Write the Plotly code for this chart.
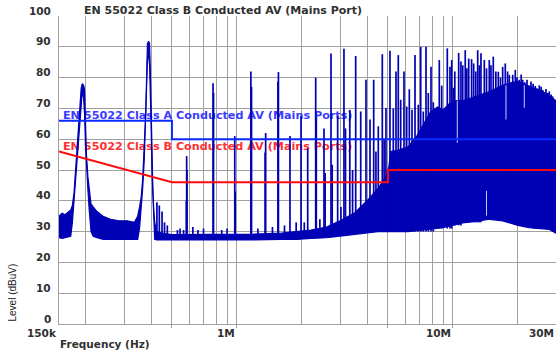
import numpy as np
import plotly.graph_objects as go

# ---------------- data (frequencies in MHz, levels in dBuV) ----------------
band_freq = [0.150, 0.155, 0.160, 0.166, 0.170, 0.173, 0.176, 0.179, 0.183, 0.187,
             0.190, 0.192, 0.195, 0.197, 0.199, 0.201, 0.204, 0.207, 0.211, 0.216,
             0.225, 0.240, 0.260, 0.285, 0.310, 0.335, 0.347, 0.354, 0.360, 0.366,
             0.372, 0.378, 0.382, 0.385, 0.390, 0.394, 0.397, 0.400, 0.404, 0.408,
             0.412, 0.416, 0.425, 0.450, 0.500, 0.800, 1.200, 1.600, 1.900, 2.200,
             2.600, 3.000, 3.500, 4.000, 4.500, 4.900, 5.050, 5.150, 5.600, 6.200,
             6.800, 7.300, 7.900, 8.500, 9.000, 9.600, 10.40, 11.10, 12.90, 14.80,
             17.00, 18.90, 20.00, 22.50, 26.00, 28.00, 30.00]
band_low = [28.0, 27.8, 28.0, 28.2, 28.5, 33.0, 40.0, 47.0, 57.0, 67.0,
            73.0, 75.0, 73.5, 68.0, 58.0, 51.0, 44.0, 37.0, 30.0, 28.5,
            28.0, 27.5, 27.5, 27.3, 27.3, 27.3, 27.5, 31.0, 37.0, 44.0,
            53.0, 65.0, 78.0, 86.0, 87.0, 84.0, 77.0, 66.0, 50.0, 40.0,
            32.0, 27.5, 27.3, 27.3, 27.2, 27.2, 27.3, 27.5, 27.5, 27.8,
            28.0, 28.5, 29.0, 29.5, 30.0, 30.0, 30.0, 30.0, 30.0, 30.0,
            30.3, 30.5, 30.8, 31.0, 31.3, 31.8, 32.4, 32.8, 33.4, 34.0,
            33.5, 32.4, 32.0, 31.3, 31.0, 30.7, 29.5]
band_high = [35.0, 36.0, 35.5, 36.5, 37.0, 38.5, 42.5, 50.0, 60.0, 70.5,
             76.5, 78.0, 77.5, 76.0, 64.0, 55.0, 48.0, 43.0, 39.0, 38.0,
             36.5, 35.0, 34.0, 33.5, 33.5, 33.0, 35.0, 38.0, 41.0, 47.0,
             56.0, 68.0, 81.0, 91.0, 91.8, 91.0, 82.5, 70.0, 54.0, 44.0,
             37.0, 33.0, 30.0, 29.5, 29.0, 29.0, 29.2, 29.5, 30.0, 30.5,
             31.5, 33.5, 36.0, 40.0, 44.0, 48.0, 51.0, 56.0, 56.5, 57.5,
             61.0, 65.0, 69.0, 70.5, 69.5, 71.5, 72.5, 72.5, 74.0, 75.5,
             77.5, 78.5, 78.7, 77.2, 75.5, 74.0, 72.5]

spike_freq = [0.426, 0.437, 0.450, 0.462, 0.476, 0.530, 0.545, 0.566, 0.583, 0.585,
              0.587, 0.625, 0.660, 0.700, 0.775, 0.779, 0.850, 0.900, 0.977, 0.981,
              1.160, 1.168, 1.250, 1.350, 1.358, 1.460, 1.548, 1.556, 1.660, 1.760,
              1.880, 1.980, 2.050, 2.126, 2.315, 2.330, 2.420, 2.529, 2.560, 2.725,
              2.760, 2.926, 3.030, 3.129, 3.180, 3.330, 3.430, 3.546, 3.741, 3.957,
              4.130, 4.296, 4.400, 4.512, 4.709, 4.800, 4.897, 5.110, 5.295, 5.450,
              5.584, 5.729, 5.934, 6.108, 6.280, 6.464, 6.672, 6.912, 7.091, 7.291,
              7.504, 7.690, 7.914, 8.111, 8.646, 8.871, 9.416, 9.690, 9.870, 10.04,
              10.20, 10.63, 10.89, 11.10, 11.40, 11.60, 11.83, 12.20, 12.47, 12.75,
              13.02, 13.25, 13.48, 13.97, 14.30, 14.73, 15.00, 15.37, 15.80, 16.22,
              16.60, 16.99, 17.47, 17.90, 18.23, 18.91, 19.44, 19.80, 20.28, 20.70,
              21.04, 21.50, 22.02, 22.98, 23.50, 24.06, 24.60, 25.11, 25.60, 26.03,
              26.96, 27.50, 27.93, 28.50, 28.96]
spike_top = [39.5, 38.5, 36.5, 33.0, 32.0, 30.5, 31.0, 30.5, 40.0, 54.5,
             50.0, 31.5, 30.5, 31.0, 78.2, 75.0, 30.5, 31.0, 61.0, 43.0,
             82.0, 77.0, 31.0, 55.7, 62.0, 31.5, 78.7, 81.8, 32.0, 61.0,
             33.0, 67.5, 33.0, 57.0, 80.0, 66.7, 34.0, 63.5, 49.0, 87.8,
             51.7, 67.6, 38.0, 89.4, 63.5, 69.5, 50.0, 87.0, 69.0, 79.3,
             66.4, 79.3, 56.0, 64.2, 87.6, 60.0, 70.1, 88.7, 70.0, 82.0,
             87.3, 72.8, 82.0, 70.6, 76.2, 69.6, 87.3, 71.2, 90.0, 69.0,
             90.0, 75.0, 83.5, 72.0, 85.7, 77.4, 89.5, 83.5, 85.7, 76.7,
             82.0, 88.0, 85.2, 84.0, 88.9, 83.0, 86.2, 86.0, 84.6, 82.0,
             88.9, 84.0, 87.9, 85.7, 83.0, 85.7, 84.0, 86.8, 82.0, 81.9,
             80.0, 83.5, 84.6, 82.0, 80.9, 80.9, 82.5, 80.0, 79.3, 81.0,
             79.3, 78.5, 79.3, 78.7, 78.0, 77.3, 76.5, 77.5, 77.0, 76.0,
             76.3, 75.0, 75.5, 74.5, 73.9]
spike_base = [29.0, 29.0, 29.0, 29.0, 29.0, 28.5, 28.5, 28.5, 29.0, 29.0,
              29.0, 28.5, 28.5, 28.5, 29.0, 29.0, 28.5, 28.5, 29.0, 29.0,
              29.0, 29.0, 28.5, 29.0, 29.0, 28.5, 29.0, 29.0, 29.0, 29.0,
              29.0, 29.0, 29.0, 29.5, 29.5, 29.5, 29.5, 30.0, 30.0, 30.0,
              30.0, 30.0, 30.0, 30.0, 30.0, 30.0, 30.0, 30.0, 30.0, 30.0,
              30.0, 30.0, 30.0, 30.0, 30.0, 30.0, 30.0, 30.0, 30.0, 30.0,
              30.0, 30.0, 30.0, 30.0, 30.0, 30.0, 30.0, 30.0, 30.0, 30.0,
              30.0, 30.0, 30.0, 30.0, 31.0, 31.0, 31.0, 31.0, 31.0, 32.0,
              32.0, 32.0, 32.0, 33.0, 33.0, 33.0, 33.0, 33.0, 33.0, 33.0,
              33.0, 33.0, 33.0, 34.0, 34.0, 34.0, 34.0, 34.0, 34.0, 34.0,
              34.0, 34.0, 34.0, 33.0, 33.0, 33.0, 33.0, 33.0, 32.0, 32.0,
              32.0, 32.0, 32.0, 32.0, 31.0, 31.0, 31.0, 31.0, 31.0, 31.0,
              31.0, 31.0, 31.0, 31.0, 31.0]

notch_freq = [10.47, 14.30, 17.60, 21.40]
notch_low = [58.8, 35.2, 66.4, 70.2]
notch_high = [72.5, 43.2, 77.5, 77.5]

classA_freq = [0.15, 0.5, 0.5, 30.0]
classA_level = [66.0, 66.0, 60.0, 60.0]
classB_freq = [0.15, 0.5, 5.0, 5.0, 30.0]
classB_level = [56.0, 46.0, 46.0, 50.0, 50.0]

label_texts = ["EN 55022 Class A Conducted AV (Mains Ports)",
               "EN 55022 Class B Conducted AV (Mains Ports)"]
label_freq = [0.1565, 0.1565]
label_level = [67.4, 57.4]

title_text = "EN 55022 Class B Conducted AV (Mains Port)"
x_title = "Frequency (Hz)"
y_title = "Level (dBuV)"

grid_freq = [0.2, 0.3, 0.4, 0.5, 0.6, 0.7, 0.8, 0.9, 1, 2, 3, 4, 5, 6, 7, 8, 9, 10, 20, 30]
tick_mark_freq = [0.5, 1, 5, 10]
x_tick_vals = [0.15, 1, 10, 30]
x_tick_text = ["150k", "1M", "10M", "30M"]
y_tick_vals = [0, 10, 20, 30, 40, 50, 60, 70, 80, 90, 100]

# ---------------- styles ----------------
TRACE_BLUE = "#0000b4"
GRID = "#a0a0a0"
BOLD = dict(family="DejaVu Sans", size=11, color="#303030", weight="bold")

fig = go.Figure()

# limit labels first so the spectrum is drawn over them
fig.add_trace(go.Scatter(x=label_freq[:1], y=label_level[:1], mode="text",
                         text=label_texts[:1], textposition="middle right",
                         textfont=dict(family="DejaVu Sans", size=11.2, color="#3b3bff", weight="bold"),
                         hoverinfo="skip", showlegend=False))
fig.add_trace(go.Scatter(x=label_freq[1:], y=label_level[1:], mode="text",
                         text=label_texts[1:], textposition="middle right",
                         textfont=dict(family="DejaVu Sans", size=11.2, color="#ff3030", weight="bold"),
                         hoverinfo="skip", showlegend=False))

# noise band (lower and upper envelope)
fig.add_trace(go.Scatter(x=band_freq, y=band_low, mode="lines",
                         line=dict(color=TRACE_BLUE, width=1.2), showlegend=False, hoverinfo="skip"))
fig.add_trace(go.Scatter(x=band_freq, y=band_high, mode="lines", fill="tonexty",
                         fillcolor=TRACE_BLUE,
                         line=dict(color=TRACE_BLUE, width=1.2), showlegend=False, hoverinfo="skip"))

# harmonic spikes
sx, sy = [], []
for f, b, t in zip(spike_freq, spike_base, spike_top):
    sx += [f, f, None]
    sy += [b, t, None]
fig.add_trace(go.Scatter(x=sx, y=sy, mode="lines", line=dict(color=TRACE_BLUE, width=1.7),
                         showlegend=False, hoverinfo="skip", connectgaps=False))

# light notches inside the dense band
nx, ny = [], []
for f, lo, hi in zip(notch_freq, notch_low, notch_high):
    nx += [f, f, None]
    ny += [lo, hi, None]
fig.add_trace(go.Scatter(x=nx, y=ny, mode="lines", line=dict(color="rgba(225,225,255,0.9)", width=1),
                         showlegend=False, hoverinfo="skip", connectgaps=False))

# limit lines
fig.add_trace(go.Scatter(x=classA_freq, y=classA_level, mode="lines",
                         line=dict(color="#0a28ff", width=2), showlegend=False, hoverinfo="skip"))
fig.add_trace(go.Scatter(x=classB_freq, y=classB_level, mode="lines",
                         line=dict(color="#ff0a0a", width=2), showlegend=False, hoverinfo="skip"))

annotations = []
annotations.append(dict(text=title_text, xref="paper", yref="paper", x=0.047, y=1,
                        xanchor="left", yanchor="middle", yshift=5.5, showarrow=False, font=BOLD))
for v, t in zip(x_tick_vals, x_tick_text):
    annotations.append(dict(text=t, xref="x", yref="paper", x=np.log10(v), y=0,
                            xanchor="right", yanchor="middle", yshift=-8.5, showarrow=False,
                            font=dict(family="DejaVu Sans", size=10.5, color="#303030", weight="bold")))
for v in y_tick_vals:
    annotations.append(dict(text=str(v), xref="paper", yref="y", x=0, y=v,
                            xanchor="right", yanchor="middle", xshift=-6, yshift=5.5, showarrow=False,
                            font=dict(family="DejaVu Sans", size=10.5, color="#303030", weight="bold")))
annotations.append(dict(text=x_title, xref="paper", yref="paper", x=0, y=0,
                        xanchor="left", yanchor="middle", xshift=-1, yshift=-19.5, showarrow=False,
                        font=dict(family="DejaVu Sans", size=10.5, color="#303030", weight="bold")))
annotations.append(dict(text=y_title, xref="paper", yref="paper", x=0, y=0, textangle=-90,
                        xanchor="center", yanchor="bottom", xshift=-47.5, yshift=0, showarrow=False,
                        font=dict(family="Liberation Sans", size=10, color="#202020")))

fig.update_layout(
    width=556, height=352,
    margin=dict(l=59, r=0, t=16, b=28, pad=0),
    paper_bgcolor="white", plot_bgcolor="white",
    xaxis=dict(type="log", range=[np.log10(0.15), np.log10(30)],
               tickmode="array", tickvals=tick_mark_freq, ticks="outside", ticklen=3,
               tickcolor=GRID, tickwidth=1, showticklabels=False,
               showgrid=True, gridcolor=GRID, gridwidth=1,
               minor=dict(tickmode="array", tickvals=grid_freq, showgrid=True,
                          gridcolor=GRID, gridwidth=1, ticks=""),
               showline=True, linecolor=GRID, linewidth=1, zeroline=False, fixedrange=True),
    yaxis=dict(range=[0, 100], tickmode="array", tickvals=y_tick_vals, showticklabels=False,
               ticks="", showgrid=True, gridcolor=GRID, gridwidth=1,
               showline=True, linecolor=GRID, linewidth=1, zeroline=False, fixedrange=True),
    annotations=annotations,
    showlegend=False,
)

fig.write_html("out.html", config=dict(displayModeBar=False),
               post_script="document.body.style.margin='0px';document.body.style.overflow='hidden';")
